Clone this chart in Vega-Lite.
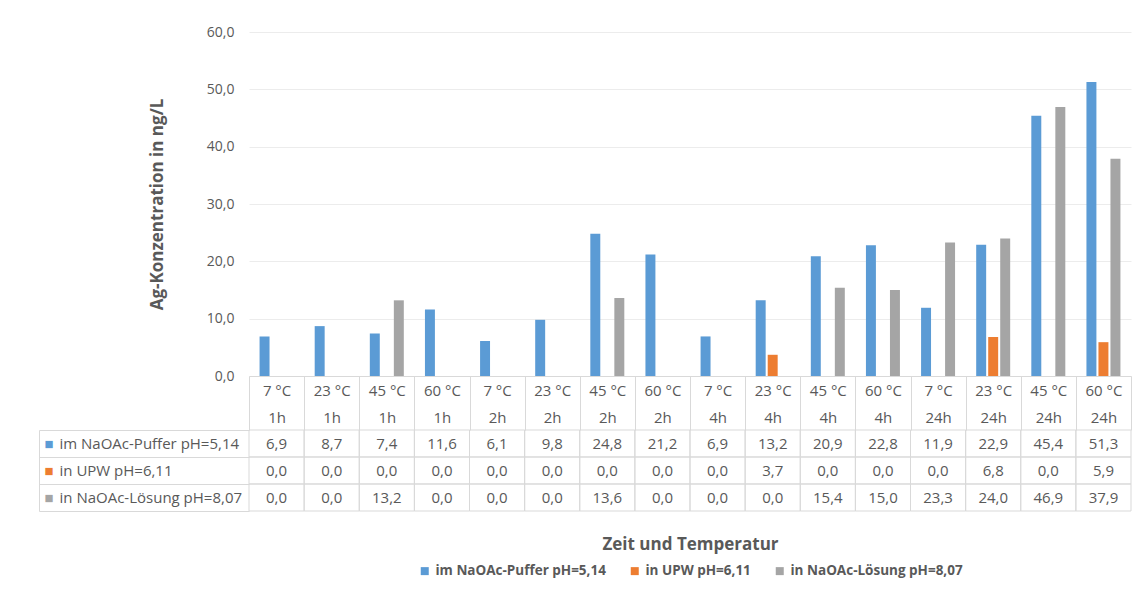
{
  "$schema": "https://vega.github.io/schema/vega-lite/v6.json",
  "background": "white",
  "padding": {"left": 38, "top": 25, "right": 10, "bottom": 5},
  "config": {
    "font": "Open Sans",
    "view": {"stroke": null},
    "locale": {"number": {"decimal": ",", "thousands": ".", "grouping": [3], "currency": ["", " €"]}},
    "legend": {"layout": {"bottom": {"anchor": "middle"}}}
  },
  "datasets": {
    "werte": [
      {"Bedingung": "7 °C\n1h", "Reihe": "im NaOAc-Puffer pH=5,14", "Wert": 6.9},
      {"Bedingung": "7 °C\n1h", "Reihe": "in UPW pH=6,11", "Wert": 0.0},
      {"Bedingung": "7 °C\n1h", "Reihe": "in NaOAc-Lösung pH=8,07", "Wert": 0.0},
      {"Bedingung": "23 °C\n1h", "Reihe": "im NaOAc-Puffer pH=5,14", "Wert": 8.7},
      {"Bedingung": "23 °C\n1h", "Reihe": "in UPW pH=6,11", "Wert": 0.0},
      {"Bedingung": "23 °C\n1h", "Reihe": "in NaOAc-Lösung pH=8,07", "Wert": 0.0},
      {"Bedingung": "45 °C\n1h", "Reihe": "im NaOAc-Puffer pH=5,14", "Wert": 7.4},
      {"Bedingung": "45 °C\n1h", "Reihe": "in UPW pH=6,11", "Wert": 0.0},
      {"Bedingung": "45 °C\n1h", "Reihe": "in NaOAc-Lösung pH=8,07", "Wert": 13.2},
      {"Bedingung": "60 °C\n1h", "Reihe": "im NaOAc-Puffer pH=5,14", "Wert": 11.6},
      {"Bedingung": "60 °C\n1h", "Reihe": "in UPW pH=6,11", "Wert": 0.0},
      {"Bedingung": "60 °C\n1h", "Reihe": "in NaOAc-Lösung pH=8,07", "Wert": 0.0},
      {"Bedingung": "7 °C\n2h", "Reihe": "im NaOAc-Puffer pH=5,14", "Wert": 6.1},
      {"Bedingung": "7 °C\n2h", "Reihe": "in UPW pH=6,11", "Wert": 0.0},
      {"Bedingung": "7 °C\n2h", "Reihe": "in NaOAc-Lösung pH=8,07", "Wert": 0.0},
      {"Bedingung": "23 °C\n2h", "Reihe": "im NaOAc-Puffer pH=5,14", "Wert": 9.8},
      {"Bedingung": "23 °C\n2h", "Reihe": "in UPW pH=6,11", "Wert": 0.0},
      {"Bedingung": "23 °C\n2h", "Reihe": "in NaOAc-Lösung pH=8,07", "Wert": 0.0},
      {"Bedingung": "45 °C\n2h", "Reihe": "im NaOAc-Puffer pH=5,14", "Wert": 24.8},
      {"Bedingung": "45 °C\n2h", "Reihe": "in UPW pH=6,11", "Wert": 0.0},
      {"Bedingung": "45 °C\n2h", "Reihe": "in NaOAc-Lösung pH=8,07", "Wert": 13.6},
      {"Bedingung": "60 °C\n2h", "Reihe": "im NaOAc-Puffer pH=5,14", "Wert": 21.2},
      {"Bedingung": "60 °C\n2h", "Reihe": "in UPW pH=6,11", "Wert": 0.0},
      {"Bedingung": "60 °C\n2h", "Reihe": "in NaOAc-Lösung pH=8,07", "Wert": 0.0},
      {"Bedingung": "7 °C\n4h", "Reihe": "im NaOAc-Puffer pH=5,14", "Wert": 6.9},
      {"Bedingung": "7 °C\n4h", "Reihe": "in UPW pH=6,11", "Wert": 0.0},
      {"Bedingung": "7 °C\n4h", "Reihe": "in NaOAc-Lösung pH=8,07", "Wert": 0.0},
      {"Bedingung": "23 °C\n4h", "Reihe": "im NaOAc-Puffer pH=5,14", "Wert": 13.2},
      {"Bedingung": "23 °C\n4h", "Reihe": "in UPW pH=6,11", "Wert": 3.7},
      {"Bedingung": "23 °C\n4h", "Reihe": "in NaOAc-Lösung pH=8,07", "Wert": 0.0},
      {"Bedingung": "45 °C\n4h", "Reihe": "im NaOAc-Puffer pH=5,14", "Wert": 20.9},
      {"Bedingung": "45 °C\n4h", "Reihe": "in UPW pH=6,11", "Wert": 0.0},
      {"Bedingung": "45 °C\n4h", "Reihe": "in NaOAc-Lösung pH=8,07", "Wert": 15.4},
      {"Bedingung": "60 °C\n4h", "Reihe": "im NaOAc-Puffer pH=5,14", "Wert": 22.8},
      {"Bedingung": "60 °C\n4h", "Reihe": "in UPW pH=6,11", "Wert": 0.0},
      {"Bedingung": "60 °C\n4h", "Reihe": "in NaOAc-Lösung pH=8,07", "Wert": 15.0},
      {"Bedingung": "7 °C\n24h", "Reihe": "im NaOAc-Puffer pH=5,14", "Wert": 11.9},
      {"Bedingung": "7 °C\n24h", "Reihe": "in UPW pH=6,11", "Wert": 0.0},
      {"Bedingung": "7 °C\n24h", "Reihe": "in NaOAc-Lösung pH=8,07", "Wert": 23.3},
      {"Bedingung": "23 °C\n24h", "Reihe": "im NaOAc-Puffer pH=5,14", "Wert": 22.9},
      {"Bedingung": "23 °C\n24h", "Reihe": "in UPW pH=6,11", "Wert": 6.8},
      {"Bedingung": "23 °C\n24h", "Reihe": "in NaOAc-Lösung pH=8,07", "Wert": 24.0},
      {"Bedingung": "45 °C\n24h", "Reihe": "im NaOAc-Puffer pH=5,14", "Wert": 45.4},
      {"Bedingung": "45 °C\n24h", "Reihe": "in UPW pH=6,11", "Wert": 0.0},
      {"Bedingung": "45 °C\n24h", "Reihe": "in NaOAc-Lösung pH=8,07", "Wert": 46.9},
      {"Bedingung": "60 °C\n24h", "Reihe": "im NaOAc-Puffer pH=5,14", "Wert": 51.3},
      {"Bedingung": "60 °C\n24h", "Reihe": "in UPW pH=6,11", "Wert": 5.9},
      {"Bedingung": "60 °C\n24h", "Reihe": "in NaOAc-Lösung pH=8,07", "Wert": 37.9}
    ]
  },
  "spacing": 54,
  "bounds": "flush",
  "resolve": {"legend": {"color": "independent"}},
  "vconcat": [
    {
      "width": 882,
      "height": 344,
      "data": {"name": "werte"},
      "mark": {"type": "bar"},
      "encoding": {
        "x": {
          "field": "Bedingung", "type": "nominal", "sort": null,
          "scale": {"paddingInner": 0, "paddingOuter": 0},
          "axis": {
            "title": null, "labelAngle": 0,
            "labelExpr": "split(datum.label, '\\n')",
            "labelLineHeight": 26.6, "labelBaseline": "middle", "labelPadding": -39.5,
            "tickBand": "extent", "tickSize": 54, "tickColor": "#d9d9d9",
            "domainColor": "#d9d9d9", "labelFontSize": 15, "labelColor": "#595959",
            "grid": false
          }
        },
        "xOffset": {
          "field": "Reihe", "type": "nominal", "sort": null,
          "scale": {"paddingInner": 0.17, "paddingOuter": 0.88}
        },
        "y": {
          "field": "Wert", "type": "quantitative",
          "scale": {"domain": [0, 60]},
          "axis": {
            "title": "Ag-Konzentration in ng/L",
            "values": [0, 10, 20, 30, 40, 50, 60], "format": ".1f",
            "domain": false, "ticks": false, "gridColor": "#ececec",
            "labelPadding": 15, "labelFontSize": 14, "labelColor": "#595959",
            "titlePadding": 40, "titleFontSize": 17, "titleFontWeight": "bold", "titleColor": "#595959"
          }
        },
        "color": {
          "field": "Reihe", "type": "nominal", "sort": null,
          "scale": {
            "domain": ["im NaOAc-Puffer pH=5,14", "in UPW pH=6,11", "in NaOAc-Lösung pH=8,07"],
            "range": ["#5B9BD5", "#ED7D31", "#A5A5A5"]
          },
          "legend": null
        }
      }
    },
    {
      "width": 882,
      "height": 81,
      "data": {"name": "werte"},
      "encoding": {
        "x": {
          "field": "Bedingung", "type": "nominal", "sort": null,
          "scale": {"paddingInner": 0, "paddingOuter": 0},
          "axis": {
            "title": "Zeit und Temperatur", "labels": false, "ticks": false, "domain": false, "grid": false,
            "titlePadding": 25, "titleFontSize": 17, "titleFontWeight": "bold", "titleColor": "#595959"
          }
        }
      },
      "layer": [
        {
          "mark": {"type": "rect", "filled": false, "stroke": "#d9d9d9", "strokeWidth": 1},
          "encoding": {
            "y": {
              "field": "Reihe", "type": "nominal", "sort": null,
              "scale": {"paddingInner": 0, "paddingOuter": 0},
              "axis": {
                "orient": "left", "title": null, "offset": 210, "tickSize": -210,
                "tickBand": "extent", "tickColor": "#d9d9d9", "domainColor": "#d9d9d9",
                "labelAlign": "left", "labelBaseline": "middle", "labelPadding": 190,
                "labelFontSize": 15, "labelColor": "#595959", "labelLimit": 0, "grid": false
              }
            }
          }
        },
        {
          "mark": {"type": "text", "fontSize": 15, "fill": "#595959"},
          "encoding": {
            "y": {
              "field": "Reihe", "type": "nominal", "sort": null,
              "axis": {
                "orient": "left", "title": null, "offset": 210, "ticks": false, "domain": false, "grid": false,
                "labelAlign": "left", "labelBaseline": "middle", "labelPadding": -5,
                "labelExpr": "'■'", "labelFontSize": 15,
                "labelColor": {"expr": "datum.value == 'im NaOAc-Puffer pH=5,14' ? '#5B9BD5' : datum.value == 'in UPW pH=6,11' ? '#ED7D31' : '#A5A5A5'"}
              }
            },
            "text": {"field": "Wert", "type": "quantitative", "format": ".1f"}
          }
        },
        {
          "mark": {"type": "point", "shape": "square", "filled": true, "opacity": 0},
          "encoding": {
            "y": {"field": "Reihe", "type": "nominal", "sort": null, "axis": null},
            "color": {
              "field": "Reihe", "type": "nominal", "sort": null,
              "legend": {
                "orient": "bottom", "direction": "horizontal", "title": null,
                "symbolType": "square", "symbolSize": 64, "symbolOpacity": 1,
                "labelFontSize": 13.5, "labelFontWeight": "bold", "labelColor": "#595959",
                "columnPadding": 22, "offset": 12, "labelLimit": 0
              }
            }
          }
        }
      ],
      "resolve": {"axis": {"y": "independent"}}
    }
  ]
}
